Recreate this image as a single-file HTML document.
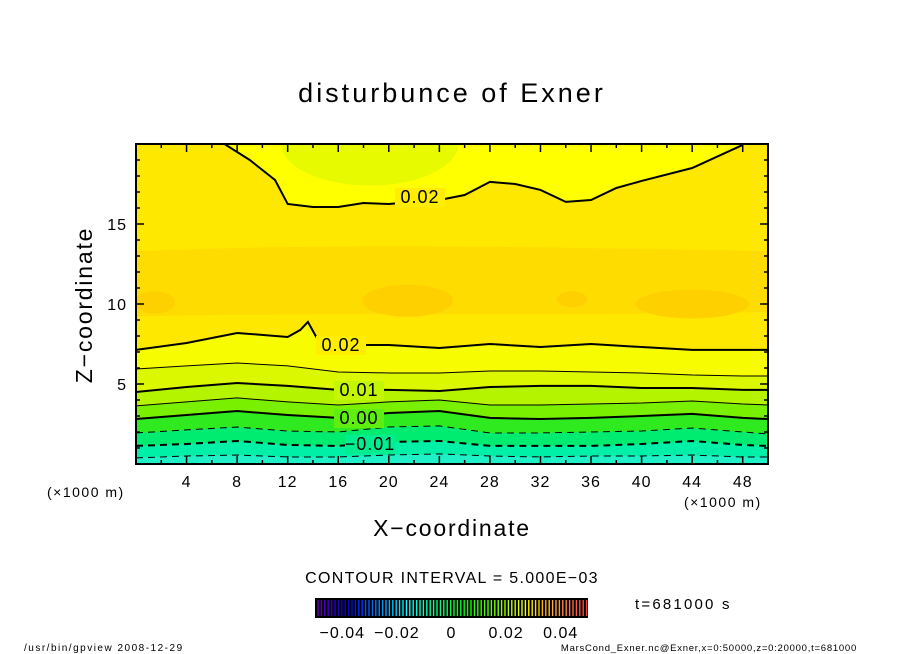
<!DOCTYPE html>
<html><head><meta charset="utf-8"><style>
body{margin:0;background:#fff;width:904px;height:654px;overflow:hidden}
svg{display:block;font-family:"Liberation Sans",sans-serif}
</style></head><body>
<svg id="c" width="904" height="654" viewBox="0 0 904 654">
<text x="452" y="102" text-anchor="middle" font-size="27" letter-spacing="3">disturbunce of Exner</text>
<defs><clipPath id="pc"><rect x="136" y="144" width="632" height="320"/></clipPath></defs>
<g id="plot" clip-path="url(#pc)"></g>
<g id="lines" clip-path="url(#pc)"></g>
<g id="axes"></g>
<text x="452" y="536" text-anchor="middle" font-size="23" letter-spacing="1.8">X−coordinate</text>
<text transform="translate(92,305) rotate(-90)" text-anchor="middle" font-size="23" letter-spacing="1.8">Z−coordinate</text>
<text x="47" y="497" font-size="14" letter-spacing="1.5">(×1000 m)</text>
<text x="684" y="507" font-size="14" letter-spacing="1.5">(×1000 m)</text>
<text x="452" y="583" text-anchor="middle" font-size="16" letter-spacing="1.3">CONTOUR INTERVAL = 5.000E−03</text>
<g id="cbar"></g>
<text x="635" y="609" font-size="15" letter-spacing="2.2">t=681000 s</text>
<text x="24" y="651" font-size="10" letter-spacing="1.5">/usr/bin/gpview   2008-12-29</text>
<text x="857" y="651" text-anchor="end" font-size="9.5" letter-spacing="0.75">MarsCond_Exner.nc@Exner,x=0:50000,z=0:20000,t=681000</text>
</svg>
<script>
const NS="http://www.w3.org/2000/svg";
const xs=[0,4,8,12,16,20,24,28,32,36,40,44,48,50];
const levelValues=[-0.015,-0.01,-0.005,0,0.005,0.01,0.015];
const zM015=[0.38,0.5,0.56,0.44,0.44,0.56,0.63,0.5,0.44,0.5,0.5,0.56,0.44,0.44];
const zM010=[1.13,1.25,1.44,1.19,1.13,1.38,1.44,1.13,1.13,1.13,1.25,1.44,1.19,1.13];
const zM005=[1.94,2.13,2.31,2.06,2.0,2.31,2.38,1.94,1.94,2.0,2.06,2.25,2.0,1.88];
const z000=[2.81,3.06,3.31,3.06,2.88,3.19,3.31,2.88,2.81,2.88,3.0,3.13,2.88,2.81];
const z005=[3.63,3.88,4.13,3.88,3.69,3.88,4.0,3.69,3.69,3.75,3.81,3.94,3.75,3.69];
const z010=[4.5,4.81,5.06,4.88,4.63,4.63,4.56,4.81,4.88,4.88,4.75,4.75,4.63,4.63];
const z015=[5.94,6.13,6.31,6.13,5.75,5.69,5.69,5.81,5.81,5.75,5.69,5.56,5.5,5.5];
const xsLow020=[0,4,8,12,13,13.6,14.3,16,20,24,28,32,36,40,44,50];
const zLow020=[7.13,7.56,8.19,7.94,8.38,8.88,7.88,7.44,7.44,7.25,7.5,7.31,7.5,7.31,7.13,7.13];
const xsUp020=[7,9,11,12,14,16,18,20,22,24,26,28,30,32,34,36,38,40,44,48];
const zUp020=[20,19,17.75,16.25,16.06,16.06,16.31,16.25,16.38,16.5,16.81,17.63,17.5,17.13,16.38,16.5,17.25,17.69,18.5,19.94];
const xTicks=[4,8,12,16,20,24,28,32,36,40,44,48];
const zTicks=[5,10,15];
const cbTicks=[-0.04,-0.02,0,0.02,0.04];
const cbLabels=["−0.04","−0.02","0","0.02","0.04"];

const X=x=>136+x*12.64, Z=z=>464-z*16;
function el(t,a,p){const e=document.createElementNS(NS,t);for(const k in a)e.setAttribute(k,a[k]);p.appendChild(e);return e;}
const plot=document.getElementById('plot'),lines=document.getElementById('lines'),axes=document.getElementById('axes');
function pts(xa,za){return xa.map((x,i)=>X(x)+','+Z(za[i])).join(' ');}
function fillAbove(xa,za,col,name){const p=el('polygon',{points:X(xa[0])+','+Z(25)+' '+pts(xa,za)+' '+X(xa[xa.length-1])+','+Z(25),fill:col},plot);
}
const base=el('rect',{x:136,y:144,width:632,height:320,fill:'#20f0c8'},plot);

const levels=[zM015,zM010,zM005,z000,z005,z010,z015];
const cols=['#00f0a8','#00ec70','#30ea20','#78f000','#b4f400','#dcf800','#f8fc00'];
levels.forEach((z,i)=>fillAbove(xs,z,cols[i],'band-'+i));
fillAbove(xsLow020,zLow020,'#ffe800','band-020');
const hb=el('path',{d:`M${X(0)},${Z(13.3)} C${X(10)},${Z(13.6)} ${X(20)},${Z(13.8)} ${X(50)},${Z(13.3)} L${X(50)},${Z(9.5)} C${X(30)},${Z(9.2)} ${X(10)},${Z(9.5)} ${X(0)},${Z(9.2)}Z`,fill:'#ffdc00'},plot);

[[1.5,10.1,1.6,0.7],[21.5,10.2,3.6,1.0],[34.5,10.3,1.2,0.5],[44,10.0,4.5,0.9]].forEach((b,i)=>{const e=el('ellipse',{cx:X(b[0]),cy:Z(b[1]),rx:b[2]*12.64,ry:b[3]*16,fill:'#ffd000'},plot);
});
const ux=[7,...xsUp020,48],uz=[25,...zUp020,25];
const up=el('polygon',{points:pts(ux,uz),fill:'#ffff00'},plot);

const gp=el('ellipse',{cx:X(18.5),cy:Z(20),rx:7*12.64,ry:2.6*16,fill:'#e8fa00'},plot);

levelValues.forEach((v,i)=>{const thick=Math.abs(v*100)%1<1e-6;
const l=el('polyline',{points:pts(xs,levels[i]),fill:'none',stroke:'#000','stroke-width':thick?2:1,'stroke-dasharray':v<0?'7 5':'none'},lines);
});
[[xsLow020,zLow020],[xsUp020,zUp020]].forEach((d,i)=>{const l=el('polyline',{points:pts(d[0],d[1]),fill:'none',stroke:'#000','stroke-width':2},lines);
});
[[420,203,'0.02','#ffee00'],[341,351,'0.02','#ffee00'],[359,396,'0.01','#c4f600'],[359,424,'0.00','#60ee10'],[370,450,'−0.01','#00ee90']].forEach((t,i)=>{
const r=el('rect',{x:t[0]-25,y:t[1]-15,width:50,height:19,fill:t[3]},lines);

const e=el('text',{x:t[0],y:t[1],'text-anchor':'middle','font-size':18,'letter-spacing':1},lines);e.textContent=t[2];
});
const fr=el('rect',{x:136,y:144,width:632,height:320,fill:'none',stroke:'#000','stroke-width':2},axes);

for(let x=2;x<50;x+=2){const L=x%4==0?8:4;
el('line',{x1:X(x),x2:X(x),y1:464,y2:464-L,stroke:'#000','stroke-width':1.5},axes);
el('line',{x1:X(x),x2:X(x),y1:144,y2:144+L,stroke:'#000','stroke-width':1.5},axes);}
for(let z=1;z<20;z++){const L=z%5==0?8:4;
el('line',{x1:136,x2:136+L,y1:Z(z),y2:Z(z),stroke:'#000','stroke-width':1.5},axes);
el('line',{x1:768,x2:768-L,y1:Z(z),y2:Z(z),stroke:'#000','stroke-width':1.5},axes);}
xTicks.forEach(v=>{const t=el('text',{x:X(v),y:487,'text-anchor':'middle','font-size':16,'letter-spacing':1},axes);t.textContent=v;
});
zTicks.forEach(v=>{const t=el('text',{x:127,y:Z(v)+6,'text-anchor':'end','font-size':16,'letter-spacing':1},axes);t.textContent=v;
});
const cb=document.getElementById('cbar');
const CX=v=>451.5+v*2730;
el('rect',{x:315,y:598,width:273,height:20,fill:'#000'},cb);
for(let i=0;i<80;i++){const f=i/79;const h=(1-f)*270;const c=`hsl(${h<0?0:h},100%,${f>0.85?62:f<0.15?40:50}%)`;
const s=el('line',{x1:318+i*3.4,x2:318+i*3.4,y1:600,y2:616,stroke:c,'stroke-width':1.4},cb);
}
cbTicks.forEach((v,i)=>{const t=el('text',{x:CX(v),y:638,'text-anchor':'middle','font-size':16,'letter-spacing':1},cb);t.textContent=cbLabels[i];
});
</script>
</body></html>
